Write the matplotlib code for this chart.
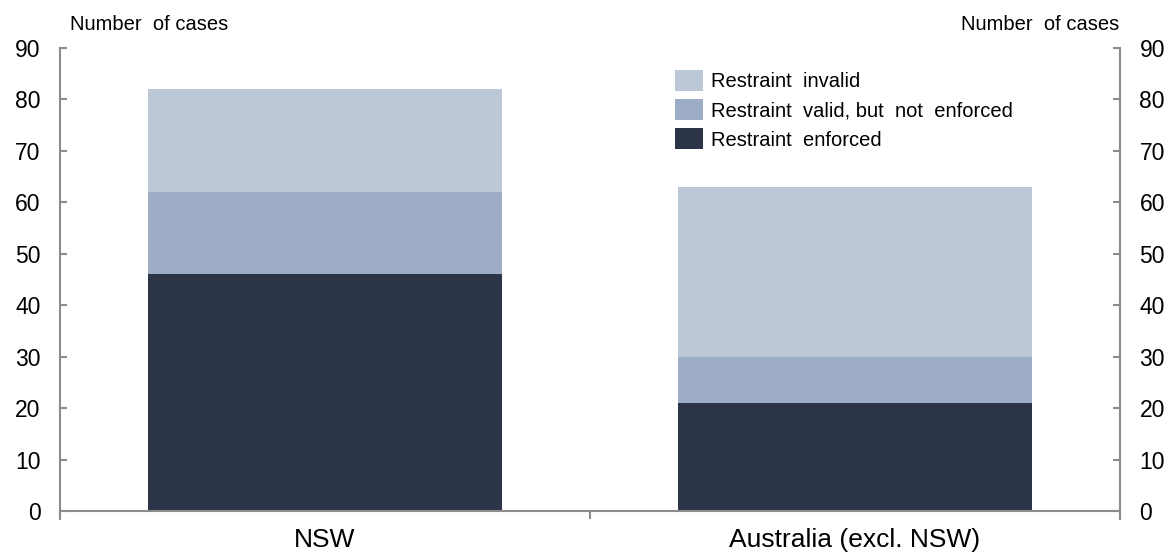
import matplotlib.pyplot as plt
import numpy as np

plt.rcParams['font.family'] = ['Liberation Sans', 'DejaVu Sans']

categories = ['NSW', 'Australia (excl. NSW)']
enforced = [46, 21]
valid_not_enforced = [16, 9]
invalid = [20, 33]
series_names = ['Restraint  invalid', 'Restraint  valid, but  not  enforced', 'Restraint  enforced']
colours = ['#bdc8d6', '#9dadc6', '#2c3547']
yticks = [0, 10, 20, 30, 40, 50, 60, 70, 80, 90]

fig = plt.figure(figsize=(11.72, 5.55), dpi=100)
ax = fig.add_axes([60 / 1172, 1 - 511 / 555, 1060 / 1172, 463 / 555])

x = np.arange(len(categories))
w = 0.667
b1 = ax.bar(x, enforced, w, color=colours[2], label=series_names[2])
b2 = ax.bar(x, valid_not_enforced, w, bottom=enforced, color=colours[1], label=series_names[1])
bottom2 = np.array(enforced) + np.array(valid_not_enforced)
b3 = ax.bar(x, invalid, w, bottom=bottom2, color=colours[0], label=series_names[0])

ax.set_xlim(-0.5, 1.5)
ax.set_ylim(0, 90)
ax.set_yticks(yticks)

grey = '#8c8c8c'
ax.spines['top'].set_visible(False)
for s in ['left', 'right', 'bottom']:
    ax.spines[s].set_color(grey)
    ax.spines[s].set_linewidth(1.5)
ax.spines['left'].set_bounds(-1.5, 90)
ax.spines['right'].set_bounds(-1.5, 90)

ax.tick_params(axis='y', which='both', direction='in', length=5, color=grey, width=1.5,
               labelsize=16.5, left=True, right=True, labelleft=True, labelright=True, pad=14)

# category ticks at boundaries, labels at centres
ax.set_xticks([-0.5, 0.5, 1.5])
ax.set_xticklabels([])
ax.tick_params(axis='x', which='major', direction='out', length=6, color=grey, width=1.5)
ax.set_xticks(x, minor=True)
ax.set_xticklabels(categories, minor=True, fontsize=19)
ax.tick_params(axis='x', which='minor', length=0, pad=12)

fig.text(70 / 1172, 1 - 25 / 555, 'Number  of cases', fontsize=14.5, ha='left', va='center')
fig.text(1119 / 1172, 1 - 25 / 555, 'Number  of cases', fontsize=14.5, ha='right', va='center')

leg = ax.legend(handles=[b3, b2, b1], loc='upper left', bbox_to_anchor=(607 / 1060, 0.97),
                frameon=False, fontsize=14.5, handlelength=1.4, handleheight=1.25,
                handletextpad=0.4, labelspacing=0.38, borderaxespad=0)

fig.savefig('out.png', dpi=100)
